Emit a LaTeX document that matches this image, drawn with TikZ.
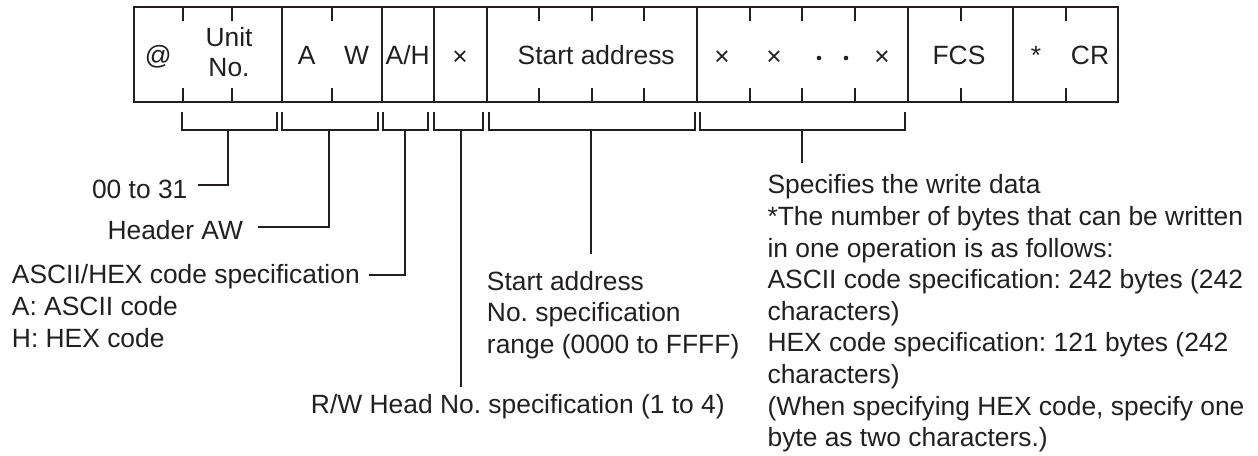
\documentclass[tikz,border=0pt]{standalone}
\usepackage{fontspec}
\setmainfont{Liberation Sans}
\definecolor{ink}{HTML}{231F20}
\frenchspacing
\begin{document}
\begin{tikzpicture}[x=0.75pt,y=-0.75pt,
  txt/.style={inner sep=0pt, font=\fontsize{19.8}{23.7}\selectfont, text=ink},
  frame/.style={line width=1.6pt, draw=ink},
  brk/.style={line width=1.25pt, draw=ink},
  lead/.style={line width=1.25pt, draw=ink}]
\useasboundingbox (0,0) rectangle (1258,456);
% frame
\draw[frame] (134,7) rectangle (1118,102);
\foreach \x in {281.7,381.7,434,486.7,696.7,908.3,1013.3}
  \draw[frame] (\x,7) -- (\x,102);
\foreach \x in {182.7,231.7,331.7,539.3,592.3,644,750,801.7,855,960.7,1066}{
  \draw[frame] (\x,7) -- (\x,21);
  \draw[frame] (\x,88) -- (\x,102);}
% field texts
\node[txt,anchor=base] (fat) at (158.3,65) {@};
\node[txt,anchor=base,align=center,font=\fontsize{19.8}{23}\selectfont] (funit) at (229,77) {Unit\\No.};
\node[txt,anchor=base] (fa) at (306.7,65) {A};
\node[txt,anchor=base] (fw) at (356.7,65) {W};
\node[txt,anchor=base] (fah) at (407.7,65) {A/H};
\node[txt,anchor=base] (fx1) at (460,66) {×};
\node[txt,anchor=base] (fsa) at (596.2,65) {Start address};
\node[txt,anchor=base] (fx2) at (722,66) {×};
\node[txt,anchor=base] (fx3) at (774,66) {×};
\node[txt,anchor=base] (fx4) at (882,66) {×};
\fill[ink] (819,58) circle (2.3);
\fill[ink] (846,58) circle (2.3);
\node[txt,anchor=base] (ffcs) at (959,65) {FCS};
\node[txt,anchor=base] (fast) at (1036,65) {*};
\node[txt,anchor=base] (fcr) at (1090,65) {CR};
% brackets
\draw[brk] (182,112) |- (277,130) -- (277,112);
\draw[brk] (282,112) |- (378,130) -- (378,112);
\draw[brk] (383,112) |- (428,130) -- (428,112);
\draw[brk] (434,112) |- (483,130) -- (483,112);
\draw[brk] (489,112) |- (695,130) -- (695,112);
\draw[brk] (700,112) |- (905,130) -- (905,112);
\coordinate (b1) at (228,130);
\coordinate (b2) at (329,130);
\coordinate (b3) at (405,130);
\coordinate (b4) at (460.7,130);
\coordinate (b5) at (590.7,130);
\coordinate (b6) at (801.7,130);
% labels
\node[txt,anchor=base east] (t1) at (187.7,198.3) {00 to 31};
\node[txt,anchor=base east] (t2) at (243.3,240) {Header AW};
\node[txt,anchor=base west,align=left] (t3) at (11.7,347.2) {ASCII/HEX code specification\\A: ASCII code\\H: HEX code};
\node[txt,anchor=base east] (t4) at (725,413.3) {R/W Head No. specification (1 to 4)};
\node[txt,anchor=base west,align=left] (t5) at (486.7,353.3) {Start address\\No. specification\\range (0000 to FFFF)};
\node[txt,anchor=base west,align=left] (t6) at (767.3,446.7) {Specifies the write data\\*The number of bytes that can be written\\in one operation is as follows:\\ASCII code specification: 242 bytes (242\\characters)\\HEX code specification: 121 bytes (242\\characters)\\(When specifying HEX code, specify one\\byte as two characters.)};
% leaders
\coordinate (e1) at (198,185);
\coordinate (e2) at (257.7,226.7);
\coordinate (e3) at (369.3,275);
\coordinate (e4) at (460.7,386.7);
\coordinate (e5) at (590.7,254.3);
\coordinate (e6) at (801.7,162.7);
\draw[lead] (b1) |- (e1);
\draw[lead] (b2) |- (e2);
\draw[lead] (b3) |- (e3);
\draw[lead] (b4) -- (e4);
\draw[lead] (b5) -- (e5);
\draw[lead] (b6) -- (e6);
\end{tikzpicture}
\end{document}
